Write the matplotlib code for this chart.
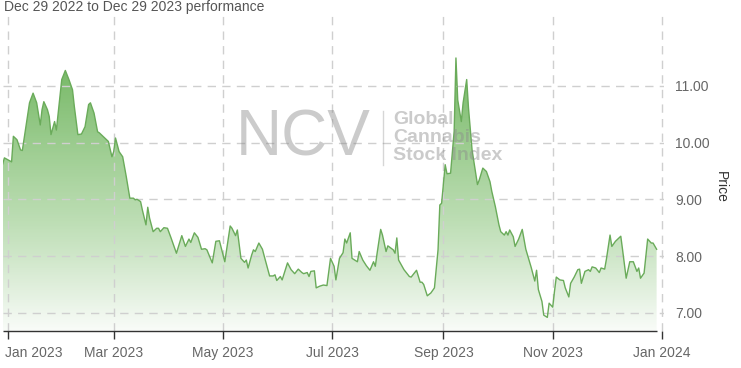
import numpy as np
import pandas as pd
import matplotlib
matplotlib.use("Agg")
import matplotlib.pyplot as plt
import matplotlib.dates as mdates
import matplotlib.transforms as mtransforms
from matplotlib.colors import LinearSegmentedColormap

plt.rcParams['font.family'] = ['Liberation Sans', 'DejaVu Sans']

# NCV closing prices
dates = [
    "2022-12-29", "2022-12-30", "2023-01-03", "2023-01-04", "2023-01-06", "2023-01-08",
    "2023-01-09", "2023-01-11", "2023-01-13", "2023-01-15", "2023-01-17", "2023-01-19",
    "2023-01-20", "2023-01-21", "2023-01-23", "2023-01-24", "2023-01-25", "2023-01-27",
    "2023-01-28", "2023-01-30", "2023-01-31", "2023-02-02", "2023-02-04", "2023-02-06",
    "2023-02-07", "2023-02-09", "2023-02-11", "2023-02-13", "2023-02-15", "2023-02-16",
    "2023-02-18", "2023-02-20", "2023-02-21", "2023-02-24", "2023-02-26", "2023-02-28",
    "2023-03-01", "2023-03-02", "2023-03-04", "2023-03-06", "2023-03-08", "2023-03-10",
    "2023-03-12", "2023-03-13", "2023-03-14", "2023-03-16", "2023-03-17", "2023-03-19",
    "2023-03-20", "2023-03-21", "2023-03-23", "2023-03-25", "2023-03-26", "2023-03-27",
    "2023-03-29", "2023-03-31", "2023-04-02", "2023-04-05", "2023-04-08", "2023-04-10",
    "2023-04-12", "2023-04-13", "2023-04-15", "2023-04-17", "2023-04-19", "2023-04-21",
    "2023-04-22", "2023-04-25", "2023-04-27", "2023-04-29", "2023-05-02", "2023-05-05",
    "2023-05-06", "2023-05-08", "2023-05-09", "2023-05-11", "2023-05-13", "2023-05-14",
    "2023-05-15", "2023-05-17", "2023-05-18", "2023-05-19", "2023-05-21", "2023-05-23",
    "2023-05-24", "2023-05-27", "2023-05-29", "2023-05-30", "2023-05-31", "2023-06-02",
    "2023-06-03", "2023-06-06", "2023-06-08", "2023-06-10", "2023-06-12", "2023-06-14",
    "2023-06-15", "2023-06-17", "2023-06-18", "2023-06-19", "2023-06-21", "2023-06-22",
    "2023-06-24", "2023-06-26", "2023-06-28", "2023-06-30", "2023-07-02", "2023-07-03",
    "2023-07-05", "2023-07-07", "2023-07-08", "2023-07-09", "2023-07-11", "2023-07-12",
    "2023-07-14", "2023-07-15", "2023-07-16", "2023-07-18", "2023-07-20", "2023-07-22",
    "2023-07-24", "2023-07-25", "2023-07-26", "2023-07-28", "2023-07-29", "2023-07-31",
    "2023-08-01", "2023-08-04", "2023-08-05", "2023-08-06", "2023-08-07", "2023-08-10",
    "2023-08-13", "2023-08-14", "2023-08-17", "2023-08-19", "2023-08-20", "2023-08-21",
    "2023-08-23", "2023-08-25", "2023-08-27", "2023-08-29", "2023-08-30", "2023-08-31",
    "2023-09-02", "2023-09-03", "2023-09-05", "2023-09-07", "2023-09-08", "2023-09-09",
    "2023-09-11", "2023-09-12", "2023-09-14", "2023-09-15", "2023-09-17", "2023-09-20",
    "2023-09-21", "2023-09-23", "2023-09-25", "2023-09-27", "2023-09-28", "2023-09-30",
    "2023-10-02", "2023-10-03", "2023-10-05", "2023-10-06", "2023-10-07", "2023-10-08",
    "2023-10-10", "2023-10-11", "2023-10-13", "2023-10-15", "2023-10-17", "2023-10-19",
    "2023-10-20", "2023-10-22", "2023-10-23", "2023-10-24", "2023-10-26", "2023-10-27",
    "2023-10-29", "2023-10-30", "2023-11-01", "2023-11-02", "2023-11-03", "2023-11-05",
    "2023-11-07", "2023-11-08", "2023-11-10", "2023-11-11", "2023-11-13", "2023-11-15",
    "2023-11-16", "2023-11-17", "2023-11-19", "2023-11-21", "2023-11-22", "2023-11-23",
    "2023-11-25", "2023-11-27", "2023-11-28", "2023-11-30", "2023-12-01", "2023-12-03",
    "2023-12-04", "2023-12-06", "2023-12-09", "2023-12-10", "2023-12-12", "2023-12-14",
    "2023-12-16", "2023-12-18", "2023-12-19", "2023-12-20", "2023-12-22", "2023-12-24",
    "2023-12-26", "2023-12-27", "2023-12-29",
]
prices = [
    9.62, 9.73, 9.66, 10.11, 10.05, 9.87,
    9.86, 10.28, 10.70, 10.87, 10.70, 10.31,
    10.58, 10.72, 10.58, 10.46, 10.14, 10.37,
    10.22, 10.81, 11.11, 11.27, 11.11, 10.93,
    10.64, 10.14, 10.15, 10.28, 10.67, 10.70,
    10.52, 10.19, 10.17, 10.08, 10.02, 9.75,
    9.84, 10.08, 9.84, 9.75, 9.40, 9.02,
    9.02, 8.99, 9.00, 8.96, 8.81, 8.55,
    8.86, 8.67, 8.43, 8.49, 8.49, 8.43,
    8.50, 8.49, 8.32, 8.05, 8.36, 8.17,
    8.30, 8.24, 8.41, 8.33, 8.12, 8.13,
    8.11, 7.88, 8.26, 8.27, 7.90, 8.53,
    8.49, 8.36, 8.46, 7.96, 7.89, 7.93,
    7.79, 8.02, 8.11, 8.08, 8.23, 8.12,
    8.00, 7.65, 7.65, 7.67, 7.57, 7.64,
    7.58, 7.88, 7.76, 7.69, 7.77, 7.71,
    7.69, 7.71, 7.64, 7.73, 7.74, 7.44,
    7.47, 7.49, 7.48, 7.96, 7.82, 7.58,
    7.96, 8.06, 8.30, 8.23, 8.41, 7.96,
    7.92, 7.90, 8.08, 7.93, 7.83, 7.75,
    7.90, 7.82, 8.05, 8.47, 8.37, 8.08,
    8.18, 8.11, 8.05, 8.32, 7.93, 7.76,
    7.64, 7.63, 7.75, 7.54, 7.54, 7.50,
    7.30, 7.35, 7.44, 8.11, 8.90, 8.93,
    9.61, 9.45, 9.46, 10.20, 11.49, 10.75,
    10.37, 10.70, 11.11, 10.61, 9.87, 9.26,
    9.34, 9.55, 9.49, 9.31, 9.14, 8.87,
    8.55, 8.43, 8.37, 8.43, 8.37, 8.46,
    8.34, 8.17, 8.30, 8.47, 8.12, 7.91,
    7.80, 7.56, 7.75, 7.41, 7.20, 6.96,
    6.92, 7.17, 7.10, 7.38, 7.63, 7.58,
    7.57, 7.44, 7.28, 7.52, 7.63, 7.76,
    7.77, 7.52, 7.73, 7.76, 7.73, 7.81,
    7.79, 7.71, 7.79, 7.77, 7.95, 8.37,
    8.17, 8.26, 8.35, 8.11, 7.61, 7.90,
    7.90, 7.73, 7.79, 7.61, 7.70, 8.30,
    8.23, 8.23, 8.12,
]
y_ticks = [7, 8, 9, 10, 11]
x_ticks = ["2023-01-01", "2023-03-01", "2023-05-01", "2023-07-01",
           "2023-09-01", "2023-11-01", "2024-01-01"]

dates = pd.to_datetime(dates)
prices = np.array(prices)
x = mdates.date2num(dates)

W, H = 741, 368
fig = plt.figure(figsize=(W / 100, H / 100), dpi=100)
px_day = 654 / 365.0
left_px = 8 - 3 * px_day
right_px = 662 + px_day
ax = fig.add_axes([left_px / W, 1 - 331 / H, (right_px - left_px) / W, (331 - 12) / H])

x0 = mdates.date2num(pd.Timestamp("2022-12-29"))
x1 = mdates.date2num(pd.Timestamp("2024-01-02"))
ymin, ymax = 6.68, 12.3
ax.set_xlim(x0, x1)
ax.set_ylim(ymin, ymax)

# gradient fill under the line, strongest at the series max
line_col = "#6aab5a"
poly = ax.fill_between(x, prices, ymin, color="none", lw=0)
cmap = LinearSegmentedColormap.from_list(
    "g", [(0.0, (0.42, 0.70, 0.35, 0.04)),
          (0.4, (0.46, 0.73, 0.39, 0.48)),
          (1.0, (0.42, 0.70, 0.35, 0.95))])
grad = np.linspace(0, 1, 256).reshape(-1, 1)
im = ax.imshow(grad, aspect="auto", cmap=cmap, origin="lower",
               extent=[x0, x1, ymin, prices.max()], zorder=1.5)
im.set_clip_path(poly.get_paths()[0], transform=ax.transData)
ax.plot(x, prices, color=line_col, lw=1.0, zorder=3)

# grid and axes
for s in ax.spines.values():
    s.set_visible(False)
ax.set_xticks(mdates.date2num(pd.to_datetime(x_ticks)))
ax.xaxis.set_major_formatter(mdates.DateFormatter("%b %Y"))
ax.set_yticks(y_ticks)
ax.yaxis.set_major_formatter(matplotlib.ticker.FormatStrFormatter("%.2f"))
ax.yaxis.tick_right()
ax.grid(True, color="#cfcfcf", lw=1, linestyle=(0, (6, 4.5)), zorder=2)
ax.tick_params(axis="x", length=6, width=1, color="#333333", labelcolor="#666666",
               labelsize=10, pad=5)
ax.tick_params(axis="y", length=0, labelcolor="#666666", labelsize=10, pad=8)
ax.hlines(ymin, x0, mdates.date2num(pd.Timestamp("2023-12-29")), color="#333333",
          lw=1, clip_on=False, zorder=4)

# keep the first date label inside the figure
first = ax.get_xticklabels()[0]
first.set_ha("left")
first.set_transform(first.get_transform() +
                    mtransforms.ScaledTranslation(-3 / 100, 0, fig.dpi_scale_trans))

# texts
fig.text(4 / W, 1 - 7 / H, "Dec 29 2022 to Dec 29 2023 performance", fontsize=10,
         color="#555555", ha="left", va="center")
fig.text(721 / W, 1 - 187 / H, "Price", fontsize=10, color="#333333",
         rotation=270, ha="center", va="center")

# watermark
wm = (0.55, 0.55, 0.55)
fig.text(236 / W, 1 - 138 / H, "NCV", fontsize=46, color=wm, alpha=0.45,
         ha="left", va="center", zorder=10)
fig.add_artist(plt.Line2D([383 / W, 383 / W], [1 - 111 / H, 1 - 165 / H],
                          color=wm, alpha=0.35, lw=1))
for i, t in enumerate(["Global", "Cannabis", "Stock Index"]):
    fig.text(393 / W, 1 - (120 + 17.5 * i) / H, t, fontsize=14, fontweight="bold",
             color=wm, alpha=0.45, ha="left", va="center", zorder=10)

fig.savefig("out.png", dpi=100)
